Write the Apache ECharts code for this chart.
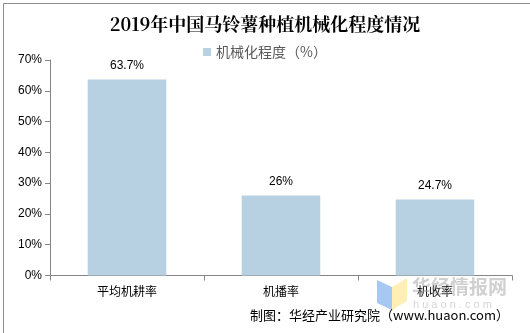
<!DOCTYPE html>
<html><head><meta charset="utf-8">
<script src="https://cdn.jsdelivr.net/npm/echarts@6/dist/echarts.min.js"></script>
<style>html,body{margin:0;padding:0;background:#fff}#c{width:530px;height:333px}</style>
</head><body><div id="c"></div>
<script>
const title = '2019年中国马铃薯种植机械化程度情况';
const seriesName = '机械化程度（%）';
const categories = ['平均机耕率', '机播率', '机收率'];
const values = [63.7, 26, 24.7];
const valueLabels = ['63.7%', '26%', '24.7%'];
const yTicks = [0, 10, 20, 30, 40, 50, 60, 70];
const source = '制图：华经产业研究院（www.huaon.com）';

const chart = echarts.init(document.getElementById('c'));
chart.setOption({
  animation: false,
  backgroundColor: '#fff',
  title: {
    text: title, left: 'center', top: 10,
    textStyle: {fontFamily: 'Noto Serif CJK SC, serif', fontWeight: 'bold', fontSize: 18, color: '#000'}
  },
  legend: {
    data: [seriesName], top: 40, left: 'center', itemWidth: 8, itemHeight: 8,
    icon: 'rect', itemGap: 4,
    textStyle: {fontSize: 14, color: '#595959', fontFamily: 'Noto Sans CJK SC'}
  },
  grid: {left: 50, right: 18, top: 60, bottom: 57.5, containLabel: false},
  xAxis: {
    type: 'category', data: categories,
    axisLine: {lineStyle: {color: '#868686'}},
    axisTick: {show: true, lineStyle: {color: '#868686'}},
    axisLabel: {fontSize: 12, color: '#000', margin: 10, fontFamily: 'Noto Sans CJK SC'}
  },
  yAxis: {
    type: 'value', min: 0, max: 70, interval: 10,
    axisLine: {show: true, lineStyle: {color: '#868686'}},
    axisTick: {show: true, lineStyle: {color: '#868686'}},
    splitLine: {show: false},
    axisLabel: {fontSize: 12, color: '#000', formatter: v => yTicks.includes(v) ? v + '%' : '', fontFamily: 'Liberation Sans, Arial'}
  },
  series: [{
    name: seriesName, type: 'bar', data: values, barWidth: '51%',
    itemStyle: {color: '#b7d1e3'},
    label: {show: true, position: 'top', distance: 8, fontSize: 12, color: '#000',
      fontFamily: 'Liberation Sans, Arial',
      formatter: p => valueLabels[p.dataIndex]}
  }],
  graphic: [
    {type: 'rect', left: 1, top: 1, shape: {width: 527, height: 330}, style: {fill: 'none', stroke: '#8c8c8c', lineWidth: 1}, silent: true},
    {type: 'polygon', shape: {points: [[377, 280], [392, 287], [392, 310], [377, 303]]}, style: {fill: 'rgba(120,170,235,0.65)'}, z: 10},
    {type: 'polygon', shape: {points: [[392, 287], [407, 278], [407, 301], [392, 310]]}, style: {fill: 'rgba(255,230,140,0.65)'}, z: 10},
    {type: 'text', left: 412, top: 277, style: {text: '华经情报网', fontSize: 19, fontWeight: 'bold', fill: 'rgba(150,150,150,0.45)', fontFamily: 'Noto Sans CJK SC'}, z: 10},
    {type: 'text', left: 413, top: 299, style: {text: 'h u a o n . c o m', fontSize: 11, fill: 'rgba(150,150,150,0.4)', fontFamily: 'Liberation Sans'}, z: 10},
    {type: 'text', right: 21, top: 309, style: {text: source, fontSize: 13, fill: '#000', fontFamily: 'Noto Sans CJK SC'}, z: 11}
  ]
});
</script></body></html>
